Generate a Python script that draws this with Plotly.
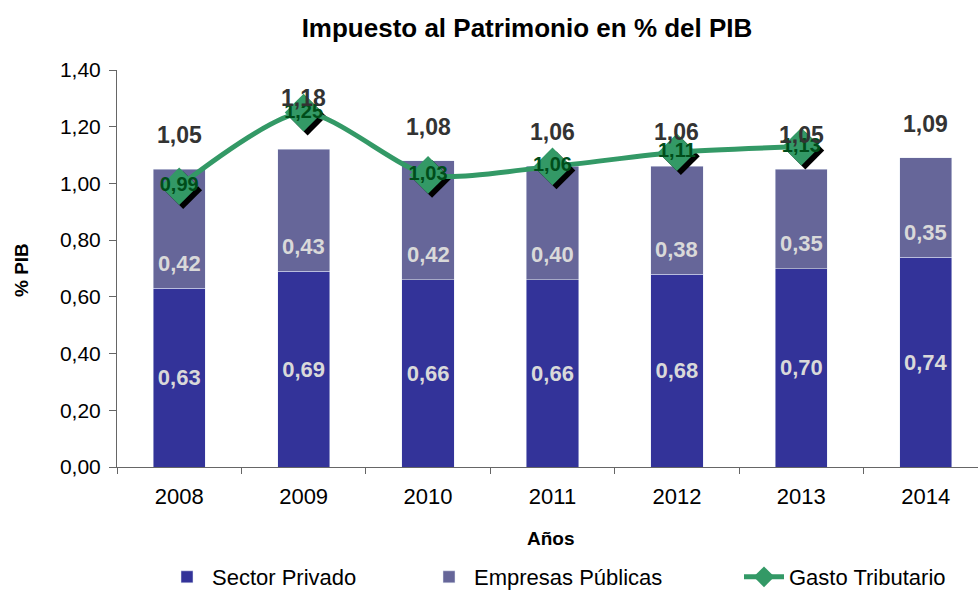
import plotly.graph_objects as go

years = ["2008", "2009", "2010", "2011", "2012", "2013", "2014"]
privado = [0.63, 0.69, 0.66, 0.66, 0.68, 0.70, 0.74]
publicas = [0.42, 0.43, 0.42, 0.40, 0.38, 0.35, 0.35]
totales = [1.05, 1.18, 1.08, 1.06, 1.06, 1.05, 1.09]
gasto_years = ["2008", "2009", "2010", "2011", "2012", "2013"]
gasto = [0.99, 1.25, 1.03, 1.06, 1.11, 1.13]
y_ticks = [0.0, 0.2, 0.4, 0.6, 0.8, 1.0, 1.2, 1.4]


def fmt(v):
    return f"{v:.2f}".replace(".", ",")


FONT = "Liberation Sans, Arial, sans-serif"
C_PRIV = "#333399"
C_PUB = "#666699"
C_GASTO = "#339966"

# plot-area geometry (pixels)
W, H = 978, 590
L, R, T, B = 117, 0, 70, 123
XR = [-0.5, 6.42]
YR = [0.0, 1.4]
pw = W - L - R
ph = H - T - B
sx = 4 * (XR[1] - XR[0]) / pw
sy = 4 * (YR[1] - YR[0]) / ph


def px_x(p):
    return (p - L) / pw


def px_y(p):
    return (H - B - p) / ph


fig = go.Figure()

fig.add_trace(go.Bar(
    x=years, y=privado, name="Sector Privado", marker_color=C_PRIV,
    width=0.42, text=[fmt(v) for v in privado], textposition="inside",
    insidetextanchor="middle", textangle=0,
    insidetextfont=dict(family=FONT, size=22, color="#d9d9d9", weight="bold"),
    hoverinfo="skip", legend="legend",
))
fig.add_trace(go.Bar(
    x=years, y=publicas, name="Empresas Públicas", marker_color=C_PUB,
    width=0.42, hoverinfo="skip", legend="legend2",
))

# shadow of diamonds (shifted overlay axes)
fig.add_trace(go.Scatter(
    x=gasto_years, y=gasto, mode="markers", xaxis="x2", yaxis="y2",
    marker=dict(symbol="diamond", size=29, color="black"),
    showlegend=False, hoverinfo="skip",
))
fig.add_trace(go.Scatter(
    x=gasto_years, y=gasto, name="Gasto Tributario", mode="lines+markers+text",
    xaxis="x3", yaxis="y3",
    line=dict(color=C_GASTO, width=5, shape="spline", smoothing=0.7),
    marker=dict(symbol="diamond", size=29, color=C_GASTO),
    text=[fmt(v) for v in gasto], textposition="middle center",
    textfont=dict(family=FONT, size=20, color="#004d1a", weight="bold"),
    hoverinfo="skip", legend="legend3",
))

annotations = []
for i, (p, v) in enumerate(zip(privado, publicas)):
    annotations.append(dict(
        x=i, y=p, xref="x", yref="y", text=fmt(v), showarrow=False,
        yshift=25, font=dict(family=FONT, size=22, color="#d9d9d9", weight="bold"),
    ))
for i, t in enumerate(totales):
    annotations.append(dict(
        x=i, y=t, xref="x", yref="y", text=fmt(t), showarrow=False,
        yshift=34, font=dict(family=FONT, size=23, color="#333333", weight="bold"),
    ))
annotations.append(dict(
    x=px_x(551), y=px_y(538), xref="paper", yref="paper",
    xanchor="center", yanchor="middle",
    text="<b>Años</b>", showarrow=False, font=dict(family=FONT, size=19, color="black"),
))
annotations.append(dict(
    x=px_x(21), y=px_y(270), xref="paper", yref="paper",
    xanchor="center", yanchor="middle",
    text="<b>% PIB</b>", showarrow=False, textangle=-90,
    font=dict(family=FONT, size=19, color="black"),
))

legend_common = dict(orientation="h", yanchor="middle", xanchor="left",
                     y=px_y(577), font=dict(family=FONT, size=22, color="black"),
                     bgcolor="rgba(0,0,0,0)", itemwidth=40)

axis_common = dict(showgrid=False, zeroline=False)
fig.update_layout(
    width=W, height=H,
    margin=dict(l=L, r=R, t=T, b=B, pad=0, autoexpand=False),
    paper_bgcolor="white", plot_bgcolor="white",
    barmode="stack", separators=",.",
    title=dict(text="<b>Impuesto al Patrimonio en % del PIB</b>",
               x=527 / W, y=1 - 28 / H, xref="container", yref="container",
               xanchor="center", yanchor="middle",
               font=dict(family=FONT, size=26, color="black")),
    xaxis=dict(type="category", range=XR, showline=True, linecolor="#666666",
               linewidth=1, ticks="outside", tickson="boundaries", ticklen=6,
               tickcolor="#666666", tickfont=dict(family=FONT, size=22, color="black"),
               ticklabelstandoff=10, **axis_common),
    yaxis=dict(range=YR, tickvals=y_ticks, tickformat=".2f", showline=True,
               linecolor="#666666", linewidth=1, ticks="outside", ticklen=7,
               tickcolor="#666666", tickfont=dict(family=FONT, size=21, color="black"),
               ticklabelstandoff=4, **axis_common),
    xaxis2=dict(type="category", categoryarray=years, categoryorder="array",
                range=[XR[0] - sx, XR[1] - sx], overlaying="x", visible=False),
    yaxis2=dict(range=[YR[0] + sy, YR[1] + sy], overlaying="y", visible=False),
    xaxis3=dict(type="category", categoryarray=years, categoryorder="array",
                range=XR, overlaying="x", visible=False),
    yaxis3=dict(range=YR, overlaying="y", visible=False),
    legend=dict(x=px_x(162), **legend_common),
    legend2=dict(x=px_x(424), **legend_common),
    legend3=dict(x=px_x(739), **legend_common),
    annotations=annotations,
    showlegend=True,
)

fig.write_html(
    "out.html",
    config={"displayModeBar": False},
    post_script="document.body.style.margin='0';document.body.style.overflow='hidden';",
)
